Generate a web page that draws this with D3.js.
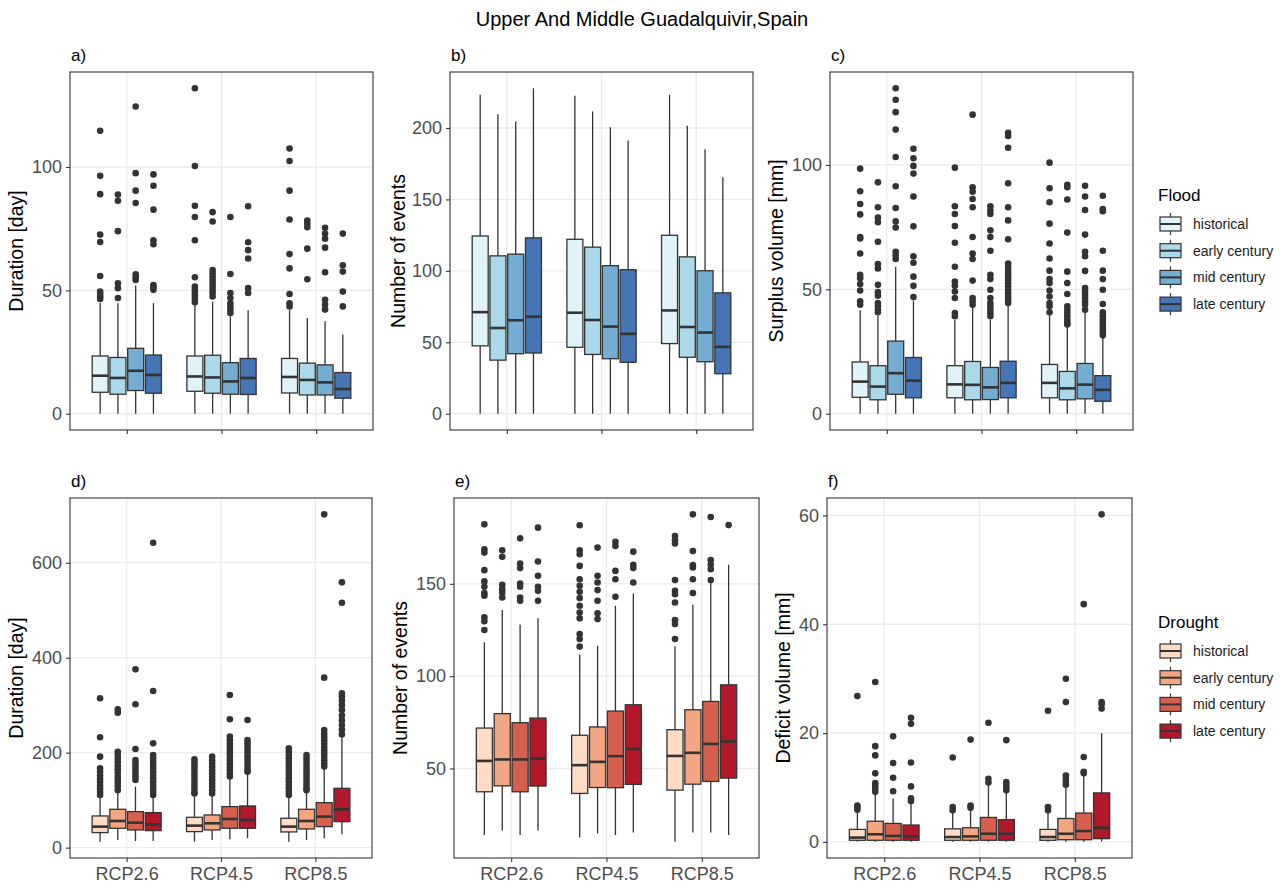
<!DOCTYPE html>
<html>
<head>
<meta charset="utf-8">
<script src="https://cdn.jsdelivr.net/npm/d3@7"></script>
<style>
  body { margin: 0; background: #fff; }
  svg { display: block; }
  text { font-family: "Liberation Sans", Arial, Helvetica, sans-serif; }
</style>
</head>
<body>
<svg id="fig" width="1280" height="888"></svg>
<script>
// ---- categories ----
const scenarios = ["RCP2.6", "RCP4.5", "RCP8.5"];
const periods = ["historical", "early century", "mid century", "late century"];
const floodColors = ["#e0f3f8", "#abd9e9", "#74add1", "#4575b4"];
const droughtColors = ["#fddbc7", "#f4a582", "#d6604d", "#b2182b"];

// ---- tick values ----
const ticksFloodDuration = [0, 50, 100];
const ticksFloodEvents = [0, 50, 100, 150, 200];
const ticksFloodSurplus = [0, 50, 100];
const ticksDroughtDuration = [0, 200, 400, 600];
const ticksDroughtEvents = [50, 100, 150];
const ticksDroughtDeficit = [0, 20, 40, 60];

// ---- box statistics: per scenario, per period [whiskerLow, q1, median, q3, whiskerHigh] ----
const floodDurationStats = [
  [[0, 8.7, 15.4, 23.4, 45], [0, 7.9, 14.5, 22.8, 44.8], [0, 9.4, 17.4, 26.5, 52], [0, 8.3, 15.7, 23.8, 44.8]],
  [[0, 9.1, 15.1, 23.4, 44.5], [0, 8.3, 14.7, 23.7, 45.5], [0, 7.9, 13.1, 20.7, 39.5], [0, 7.8, 14.5, 22.4, 41.9]],
  [[0, 8.4, 14.9, 22.4, 42], [0, 7.6, 13.7, 20.5, 38.8], [0, 7.6, 12.7, 19.8, 37.5], [0, 6.3, 10, 16.7, 32.1]]
];
const floodDurationOutliers = [
  [[114.7, 96.4, 89, 72.6, 69.6, 55.8, 49.5, 48.5, 47.5, 46.5],
   [88.8, 86.3, 74, 52.9, 50.9, 46.9],
   [124.5, 97.5, 90.4, 85.4, 56.5, 55.3, 54.2],
   [97, 92.4, 82.7, 70.3, 68.7, 52.2, 51.3, 50.2]],
  [[131.9, 100.4, 84.3, 79.7, 70.3, 55.3, 51.5, 50.2, 49, 47.8, 46.5, 45.2],
   [81.7, 77.9, 58.2, 56.9, 55.6, 54.2, 52.9, 51.6, 50.2, 49, 47.5],
   [79.7, 56.6, 48.9, 46.9, 44.8, 43.5, 42.2, 40.8],
   [84.1, 69.5, 66.3, 62.9, 50.9, 48.9]],
  [[107.5, 102.4, 90.4, 78.7, 64.7, 58.9, 48.5, 44.8, 43.5],
   [78.3, 77, 75.6, 66.9, 54.5],
   [75.4, 73, 70.9, 67.3, 57.3, 46.2, 44.2, 42.2],
   [73, 60.2, 57.6, 49.5, 43.5]]
];

const floodEventsStats = [
  [[0, 47.5, 71.1, 124.4, 223.2], [0, 37.5, 60, 110.5, 209.7], [0, 42, 65.4, 111.7, 204.6], [0, 42.5, 67.9, 123.1, 227.8]],
  [[0, 46.5, 70.7, 122.1, 222.5], [0, 41.5, 65.6, 116.6, 211.6], [0, 38.5, 61, 103.6, 200.5], [0, 36, 55.9, 100.8, 191.2]],
  [[0, 49.1, 72.3, 124.9, 223.2], [0, 39.5, 60.7, 109.8, 201.6], [0, 36.4, 56.8, 100.1, 185.2], [0, 28, 46.8, 84.6, 165.5]]
];
const floodEventsOutliers = [
  [[], [], [], []],
  [[], [], [], []],
  [[], [], [], []]
];

const floodSurplusStats = [
  [[0, 6.6, 12.9, 20.8, 41.6], [0, 5.6, 10.9, 19.3, 39.5], [0, 7.8, 16.3, 29.2, 59.1], [0, 6.4, 13.3, 22.6, 45.5]],
  [[0, 6.4, 11.8, 19.3, 37.8], [0, 5.6, 11.6, 21, 42.5], [0, 5.7, 10.6, 18.6, 37.8], [0, 6.4, 12.4, 21.1, 43.6]],
  [[0, 6.4, 12.4, 19.8, 39.8], [0, 5.6, 10.2, 17, 34.9], [0, 6, 11.7, 20.2, 40.5], [0, 5, 9.6, 15.3, 30.8]]
];
const floodSurplusOutliers = [
  [[98.5, 89.4, 84.3, 80.1, 71, 70.4, 64.4, 55.8, 54.4, 52.1, 49.5, 45.2, 43.8],
   [93, 83, 78.8, 77, 69.1, 60.2, 58.4, 51.8, 48.9, 47.4, 44.5, 43.2, 41.8, 40.8],
   [130.8, 126.2, 121.2, 114.2, 103.2, 91.4, 82.7, 77.3, 74.8, 65.1, 63.7, 62.2],
   [106.5, 102.7, 99.6, 96.5, 87.3, 75.3, 63.3, 60.7, 55.1, 51.4, 46.9]],
  [[98.9, 83.4, 80.3, 75.4, 68.7, 59.1, 53.1, 51.4, 49.1, 46.5, 40.5, 39.2],
   [120.2, 91, 89.2, 86.3, 83, 71, 64.4, 62.2, 53.5, 46.5, 45.2, 43.8],
   [83.4, 81.7, 80.3, 73.7, 71, 65.5, 55.8, 54.1, 49.8, 46.5, 44.5, 43.2, 41.8, 40.5, 39.2],
   [112.9, 111.6, 106.9, 92.6, 83, 77.7, 70.1, 60.4, 59.1, 57.8, 56.4, 55.1, 53.8, 52.4, 51.1, 49.8, 48.5, 47.1, 45.8, 44.5]],
  [[100.9, 90.6, 85, 76.4, 68.4, 62.4, 57.5, 54.1, 52.5, 49.5, 47.1, 44.5, 43.2, 40.8],
   [92, 91, 86.1, 72.8, 57.1, 52.5, 48.1, 43.2, 41.8, 40.5, 39.2, 37.8, 36.5, 35.9],
   [91.6, 87.3, 81.9, 72, 65.1, 63.3, 57.4, 50.5, 49.1, 47.8, 46.5, 45.2, 43.8, 41.8],
   [87.6, 82.3, 81.4, 65.5, 57.5, 54.1, 49.8, 44.1, 40.8, 39.5, 38.1, 36.8, 35.5, 34.1, 32.8, 31.5]]
];

const droughtDurationStats = [
  [[12.6, 31.6, 44.2, 66.7, 107.4], [16.1, 40.7, 56.1, 80.7, 114.4], [14, 37.2, 52.6, 75.8, 128.4], [14, 35.8, 49.1, 73.7, 107.4]],
  [[12.6, 33.7, 46.3, 63.9, 107.4], [16.1, 37.2, 51.2, 68.8, 108.8], [17.5, 40.7, 60.4, 86.3, 146], [19.6, 40.7, 58.2, 87.7, 156.5]],
  [[12.6, 33, 44.2, 61.8, 107.4], [16.1, 39.3, 56.1, 80.7, 117.9], [19.6, 44.2, 65.3, 94.7, 167], [28.1, 54.7, 80.7, 124.9, 230.2]]
];
const droughtDurationOutliers = [
  [[314.4, 232.3, 191.6, 167, 160, 152, 145, 138, 130, 124, 117, 111],
   [291.2, 284.2, 202, 195, 187, 180, 172, 165, 158, 150, 143, 136, 129, 121],
   [375.4, 301.8, 207.7, 184.6, 177.5, 170.5, 163.5, 156.5, 149.5, 142.5],
   [642.1, 329.8, 219.6, 195, 188, 181, 174, 167, 160, 153, 146, 139, 132, 125, 118, 111]],
  [[186, 180, 173, 166, 159, 152, 145, 138, 131, 124, 117, 114],
   [191.6, 184, 177, 170, 163, 156, 149, 142, 135, 128, 121, 114],
   [321.4, 270.2, 233.7, 226, 219, 212, 205, 198, 191, 184, 177, 170, 163, 156, 150],
   [268.8, 226.7, 220, 213, 206, 199, 192, 185, 178, 171, 164, 160]],
  [[209, 202, 195, 188, 181, 174, 167, 160, 153, 146, 139, 132, 125, 118, 111],
   [195, 188, 181, 174, 167, 160, 153, 146, 139, 132, 125, 121],
   [701.8, 357.9, 247.7, 240, 233, 226, 219, 212, 205, 198, 191, 184, 177, 171],
   [558.6, 515.8, 324.9, 318, 310, 300, 290, 278, 268, 258, 248, 238]]
];

const droughtEventsStats = [
  [[14, 37.4, 54.1, 71.9, 118.3], [16.4, 40.6, 54.9, 79.7, 135.8], [14, 37.4, 54.9, 74.8, 127.9], [16.4, 40.5, 55.4, 77.3, 131.3]],
  [[12.6, 36.5, 51.8, 68, 111.7], [14.9, 39.7, 53.6, 72.5, 116.5], [14, 39.6, 56.7, 81.1, 138.1], [15.3, 41.4, 60.6, 84.5, 144.8]],
  [[10.4, 38.3, 56.8, 71, 116.2], [15.3, 41.5, 58.5, 81.8, 138.7], [15.3, 43, 63.3, 86.3, 151], [14, 44.8, 64.7, 95.3, 160.3]]
];
const droughtEventsOutliers = [
  [[182.2, 168.7, 166.9, 157.4, 151.3, 148.4, 145, 143.5, 131.8, 129.7, 125],
   [168.2, 164.6, 149.5, 147.1, 145.2, 142.6],
   [174.6, 161, 158.5, 150.2, 148.4, 142.6, 140.8],
   [180.4, 162.1, 154.3, 148.4, 146.2, 140.8]],
  [[181.7, 168.2, 166, 159.7, 152.5, 148.9, 145.7, 142.3, 138.1, 134.5, 131.3, 122.8, 120.1, 116],
   [169.6, 154.3, 150.7, 146.6, 140.8, 134, 130.9],
   [172.7, 170.5, 157, 152.5, 143],
   [167.4, 160.3, 158.5, 150.7]],
  [[175.9, 173.6, 171.8, 152, 146.2, 144.4, 139.9, 130.4, 128.2, 120.1],
   [187.6, 167.8, 160.1, 158.8, 152.5, 145],
   [186.2, 162.8, 160.3, 157.9, 152],
   [181.8]]
];

const droughtDeficitStats = [
  [[0.05, 0.3, 0.8, 2.3, 5.5], [0.05, 0.3, 1.4, 3.8, 8.8], [0.05, 0.3, 1.1, 3.4, 8], [0.05, 0.3, 1, 3.1, 7.2]],
  [[0.05, 0.3, 0.9, 2.4, 5.5], [0.05, 0.3, 1, 2.6, 6], [0.05, 0.3, 1.5, 4.5, 10.5], [0.05, 0.3, 1.5, 4.1, 9]],
  [[0.05, 0.3, 0.9, 2.3, 5.5], [0.05, 0.4, 1.5, 4.3, 10.2], [0.05, 0.4, 2, 5.3, 12.3], [0.1, 0.6, 2.6, 9, 20]]
];
const droughtDeficitOutliers = [
  [[26.8, 6.7, 6.3, 5.9],
   [29.4, 17.6, 15.9, 12.6, 10.8, 10.3, 9.8, 9.2],
   [19.4, 14.5, 11.8, 9.3],
   [22.8, 21.7, 14.6, 10.2, 8, 7.5]],
  [[15.5, 6.4, 5.8],
   [18.8, 6.7, 6.3],
   [21.9, 11.6, 10.9],
   [18.7, 11, 10.5, 10, 9.5]],
  [[24.1, 6.4, 5.8],
   [30, 25.7, 12.2, 11.6, 11, 10.5],
   [43.7, 15.6, 12.9, 12.6],
   [60.2, 25.7, 25.3, 24.5]]
];

// ---- figure layout ----
const panels = [
  { tag: "a)", stats: floodDurationStats, outliers: floodDurationOutliers, ticks: ticksFloodDuration,
    yTitle: "Duration [day]", colors: floodColors, x0: 70, x1: 373, y0: 72, y1: 430, titleX: 23, xLabels: false },
  { tag: "b)", stats: floodEventsStats, outliers: floodEventsOutliers, ticks: ticksFloodEvents,
    yTitle: "Number of events", colors: floodColors, x0: 450, x1: 753, y0: 72, y1: 430, titleX: 405, xLabels: false },
  { tag: "c)", stats: floodSurplusStats, outliers: floodSurplusOutliers, ticks: ticksFloodSurplus,
    yTitle: "Surplus volume [mm]", colors: floodColors, x0: 830, x1: 1133, y0: 72, y1: 430, titleX: 783, xLabels: false },
  { tag: "d)", stats: droughtDurationStats, outliers: droughtDurationOutliers, ticks: ticksDroughtDuration,
    yTitle: "Duration [day]", colors: droughtColors, x0: 70, x1: 372, y0: 498, y1: 858, titleX: 23, xLabels: true },
  { tag: "e)", stats: droughtEventsStats, outliers: droughtEventsOutliers, ticks: ticksDroughtEvents,
    yTitle: "Number of events", colors: droughtColors, x0: 454, x1: 759, y0: 498, y1: 858, titleX: 407, xLabels: true },
  { tag: "f)", stats: droughtDeficitStats, outliers: droughtDeficitOutliers, ticks: ticksDroughtDeficit,
    yTitle: "Deficit volume [mm]", colors: droughtColors, x0: 827, x1: 1132, y0: 498, y1: 858, titleX: 790, xLabels: true }
];

const ink = "#333333";
const gridColor = "#ebebeb";
const tickTextColor = "#4d4d4d";

const svg = d3.select("#fig");

svg.append("text")
  .attr("x", 642).attr("y", 26)
  .attr("text-anchor", "middle")
  .attr("font-size", 20)
  .attr("fill", "#000")
  .text("Upper And Middle Guadalquivir,Spain");

function drawPanel(p) {
  const g = svg.append("g");

  const x = d3.scalePoint().domain(scenarios).range([p.x0, p.x1]).padding(0.6);
  const half = 0.375 * x.step();
  const dodge = d3.scaleBand().domain(periods).range([-half, half])
    .paddingInner(0.1).paddingOuter(0.05);

  const all = [];
  p.stats.forEach(row => row.forEach(s => all.push(...s)));
  p.outliers.forEach(row => row.forEach(o => all.push(...o)));
  const [lo, hi] = d3.extent(all);
  const pad = (hi - lo) * 0.05;
  const y = d3.scaleLinear().domain([lo - pad, hi + pad]).range([p.y1, p.y0]);

  // panel background and grid
  g.append("rect").attr("x", p.x0).attr("y", p.y0)
    .attr("width", p.x1 - p.x0).attr("height", p.y1 - p.y0).attr("fill", "#fff");
  g.selectAll("line.hgrid").data(p.ticks).join("line").attr("class", "hgrid")
    .attr("x1", p.x0).attr("x2", p.x1)
    .attr("y1", d => y(d)).attr("y2", d => y(d))
    .attr("stroke", gridColor).attr("stroke-width", 1.3);
  g.selectAll("line.vgrid").data(scenarios).join("line").attr("class", "vgrid")
    .attr("y1", p.y0).attr("y2", p.y1)
    .attr("x1", d => x(d)).attr("x2", d => x(d))
    .attr("stroke", gridColor).attr("stroke-width", 1.3);

  // boxes
  const boxes = [];
  scenarios.forEach((sc, i) => periods.forEach((pe, j) => {
    boxes.push({ sc, pe, j, s: p.stats[i][j], out: p.outliers[i][j] });
  }));
  const bw = dodge.bandwidth();
  const cx = d => x(d.sc) + dodge(d.pe) + bw / 2;

  const bg = g.selectAll("g.box").data(boxes).join("g").attr("class", "box");

  bg.each(function (d) {
    d3.select(this).selectAll("circle").data(d.out).join("circle")
      .attr("cx", cx(d)).attr("cy", v => y(v)).attr("r", 3.3)
      .attr("fill", ink);
  });
  // whiskers
  bg.append("line")
    .attr("x1", cx).attr("x2", cx)
    .attr("y1", d => y(d.s[0])).attr("y2", d => y(d.s[1]))
    .attr("stroke", ink).attr("stroke-width", 1.3);
  bg.append("line")
    .attr("x1", cx).attr("x2", cx)
    .attr("y1", d => y(d.s[3])).attr("y2", d => y(d.s[4]))
    .attr("stroke", ink).attr("stroke-width", 1.3);
  // interquartile box
  bg.append("rect")
    .attr("x", d => cx(d) - bw / 2).attr("width", bw)
    .attr("y", d => y(d.s[3])).attr("height", d => y(d.s[1]) - y(d.s[3]))
    .attr("fill", d => p.colors[d.j])
    .attr("stroke", ink).attr("stroke-width", 1.3);
  // median
  bg.append("line")
    .attr("x1", d => cx(d) - bw / 2).attr("x2", d => cx(d) + bw / 2)
    .attr("y1", d => y(d.s[2])).attr("y2", d => y(d.s[2]))
    .attr("stroke", ink).attr("stroke-width", 2.6);

  // border
  g.append("rect").attr("x", p.x0).attr("y", p.y0)
    .attr("width", p.x1 - p.x0).attr("height", p.y1 - p.y0)
    .attr("fill", "none").attr("stroke", ink).attr("stroke-width", 1.1);

  // axes
  const yAxis = g.append("g").attr("transform", `translate(${p.x0},0)`)
    .call(d3.axisLeft(y).tickValues(p.ticks).tickSize(4).tickPadding(4));
  const xAxis = g.append("g").attr("transform", `translate(0,${p.y1})`)
    .call(d3.axisBottom(x).tickSize(4).tickPadding(5)
      .tickFormat(d => p.xLabels ? d : ""));
  [yAxis, xAxis].forEach(a => {
    a.select(".domain").remove();
    a.selectAll(".tick line").attr("stroke", ink).attr("stroke-width", 1.1);
    a.selectAll(".tick text").attr("fill", tickTextColor)
      .attr("font-size", 18).attr("font-family", null);
  });

  // axis title and panel tag
  g.append("text")
    .attr("transform", `translate(${p.titleX},${(p.y0 + p.y1) / 2}) rotate(-90)`)
    .attr("text-anchor", "middle").attr("font-size", 19.5).attr("fill", "#000")
    .text(p.yTitle);
  g.append("text")
    .attr("x", p.x0 + 1).attr("y", p.y0 - 11)
    .attr("font-size", 17).attr("fill", "#000")
    .text(p.tag);
}

panels.forEach(drawPanel);

function drawLegend(title, colors, titleY, firstY, gap) {
  const lg = svg.append("g");
  lg.append("text").attr("x", 1158).attr("y", titleY)
    .attr("font-size", 17).attr("fill", "#000").text(title);
  const items = lg.selectAll("g.key").data(periods).join("g").attr("class", "key")
    .attr("transform", (d, i) => `translate(1160,${firstY + i * gap})`);
  items.append("line").attr("x1", 10.5).attr("x2", 10.5).attr("y1", -11).attr("y2", 11)
    .attr("stroke", ink).attr("stroke-width", 1.2);
  items.append("rect").attr("x", 0).attr("y", -7).attr("width", 21).attr("height", 14)
    .attr("fill", (d, i) => colors[i]).attr("stroke", ink).attr("stroke-width", 1.2);
  items.append("line").attr("x1", 0).attr("x2", 21).attr("y1", 0).attr("y2", 0)
    .attr("stroke", ink).attr("stroke-width", 2);
  items.append("text").attr("x", 33).attr("y", 5)
    .attr("font-size", 14).attr("fill", "#1a1a1a").text(d => d);
}

drawLegend("Flood", floodColors, 201, 224, 26.7);
drawLegend("Drought", droughtColors, 628, 651, 26.7);
</script>
</body>
</html>
